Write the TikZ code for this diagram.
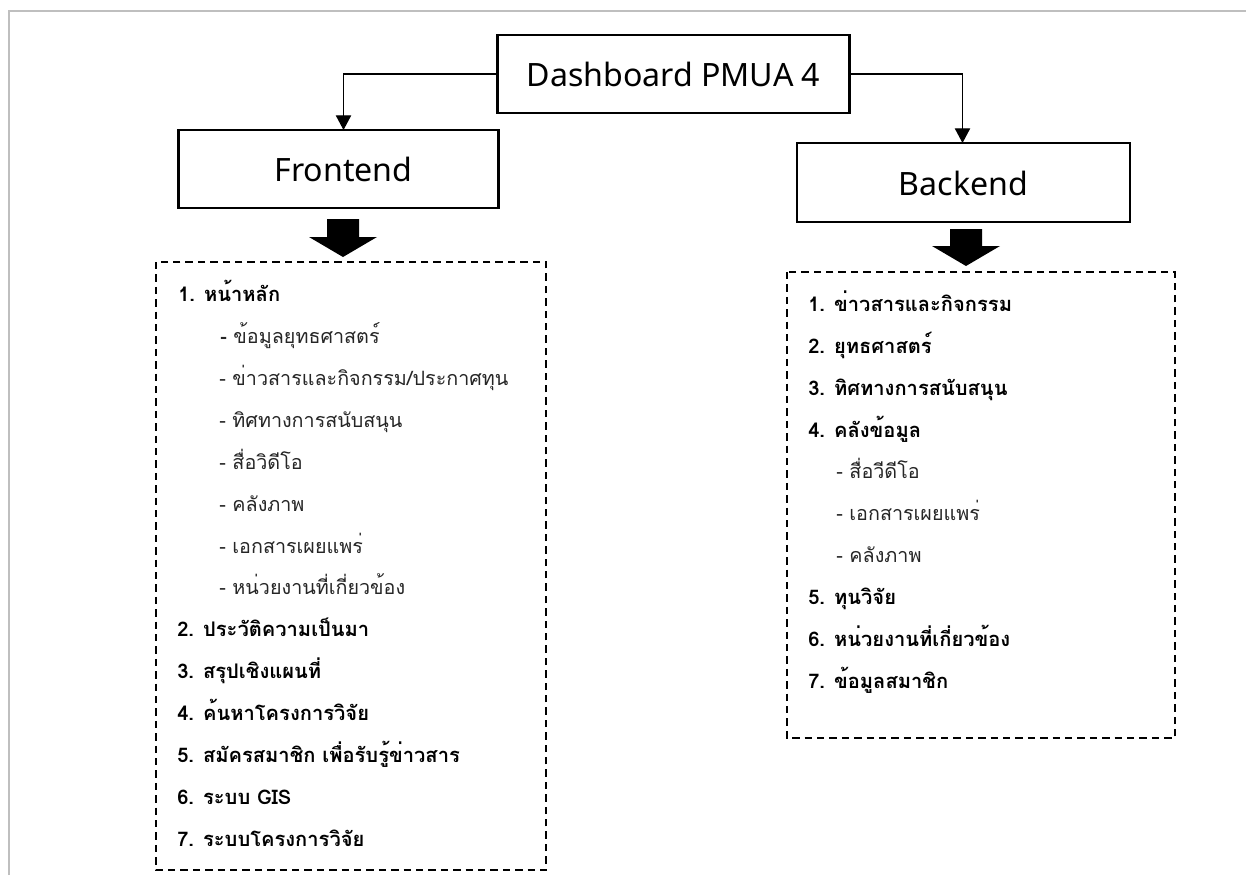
\documentclass[tikz,border=0pt]{standalone}
\usepackage{fontspec}
\setmainfont{Loma}
\newfontfamily\latinfont{Noto Sans}
\usetikzlibrary{arrows.meta}
\tikzset{
  mainbox/.style={draw=black,line width=1.7pt,fill=white,inner sep=0pt,anchor=center,text height=18.75pt,text depth=0pt,font=\latinfont\fontsize{24.1}{28}\selectfont},
  dashbox/.style={draw=black,line width=1.9pt,dash pattern=on 5.6pt off 3.7pt},
  conn/.style={draw=black,line width=0.8pt,-{Triangle[length=11pt,width=11.5pt]}},
  bigarrow/.style={fill=black,draw=none},
  hd/.style={anchor=base west,inner sep=0pt,font=\bfseries\fontsize{15.1}{17}\selectfont,text=black},
  sb/.style={anchor=base west,inner sep=0pt,font=\fontsize{14.8}{17}\selectfont,text=black!85}
}
\begin{document}
\begin{tikzpicture}[x=0.75pt,y=-0.75pt]
\useasboundingbox (0,0) rectangle (1246,875);
\fill[white] (0,0) rectangle (1246,875);
\draw[black!25,line width=1.5pt] (9,875) -- (9,10.5) -- (1246,10.5);
\node[mainbox,minimum width=352*0.75pt,minimum height=78*0.75pt] (dash) at (673.5,74) {Dashboard PMUA 4};
\node[mainbox,minimum width=320*0.75pt,minimum height=78*0.75pt] (fe) at (338.5,169) {\hspace*{7.5pt}Frontend};
\node[mainbox,minimum width=333*0.75pt,minimum height=79*0.75pt] (be) at (963.5,182.5) {Backend};
\coordinate (fetop) at (343.5,130);
\coordinate (betop) at (962.5,143);
\draw[conn] (dash.west) -| (fetop);
\draw[conn] (dash.east) -| (betop);
\fill[bigarrow] (327,219) -- (359,219) -- (359,237) -- (377,237) -- (343,257) -- (309,237) -- (327,237) -- cycle;
\fill[bigarrow] (950,229) -- (982,229) -- (982,246) -- (1000,246) -- (966,266) -- (932,246) -- (950,246) -- cycle;
\draw[dashbox] (156,262) rectangle (546,870);
\draw[dashbox] (787,272) rectangle (1175,738);
\node[hd] (a1) at (178,301) {1. หน้าหลัก};
\node[sb] (a2) at (220,343) {{\bfseries -} ข้อมูลยุทธศาสตร์};
\node[sb] (a3) at (219,385) {- ข่าวสารและกิจกรรม/ประกาศทุน};
\node[sb] (a4) at (219,427) {- ทิศทางการสนับสนุน};
\node[sb] (a5) at (219,469) {- สื่อวิดีโอ};
\node[sb] (a6) at (219,511) {- คลังภาพ};
\node[sb] (a7) at (219,553) {- เอกสารเผยแพร่};
\node[sb] (a8) at (219,594) {- หน่วยงานที่เกี่ยวข้อง};
\node[hd] (a9) at (177,636) {2. ประวัติความเป็นมา};
\node[hd] (a10) at (177,678) {3. สรุปเชิงแผนที่};
\node[hd] (a11) at (177,720) {4. ค้นหาโครงการวิจัย};
\node[hd] (a12) at (177,762) {5. สมัครสมาชิก เพื่อรับรู้ข่าวสาร};
\node[hd] (a13) at (177,804) {6. ระบบ GIS};
\node[hd] (a14) at (177,846) {7. ระบบโครงการวิจัย};
\node[hd] (b1) at (808,311) {1. ข่าวสารและกิจกรรม};
\node[hd] (b2) at (808,353) {2. ยุทธศาสตร์};
\node[hd] (b3) at (808,395) {3. ทิศทางการสนับสนุน};
\node[hd] (b4) at (808,437) {4. คลังข้อมูล};
\node[sb] (b5) at (836,478) {- สื่อวีดีโอ};
\node[sb] (b6) at (836,520) {- เอกสารเผยแพร่};
\node[sb] (b7) at (836,562) {- คลังภาพ};
\node[hd] (b8) at (808,604) {5. ทุนวิจัย};
\node[hd] (b9) at (808,646) {6. หน่วยงานที่เกี่ยวข้อง};
\node[hd] (b10) at (808,688) {7. ข้อมูลสมาชิก};
\end{tikzpicture}
\end{document}
